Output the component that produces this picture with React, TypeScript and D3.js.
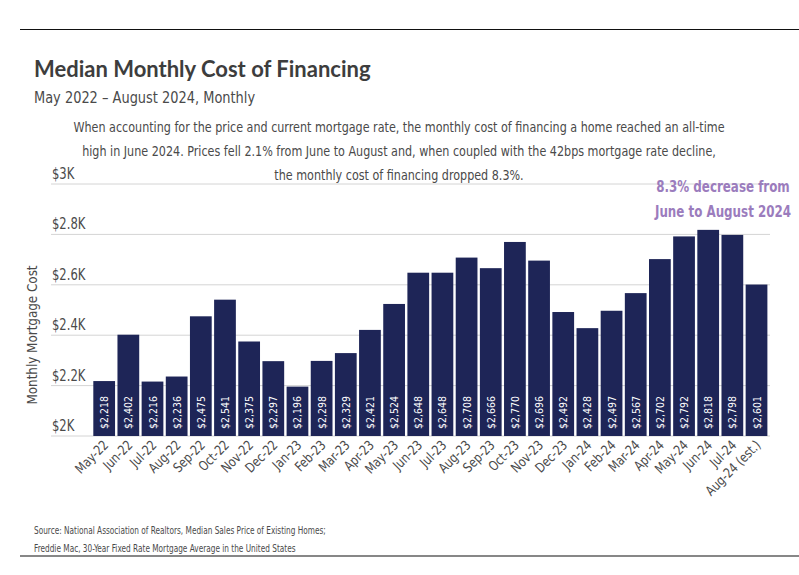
import React from 'react';
import * as d3 from 'd3';

const months = [
  'May-22', 'Jun-22', 'Jul-22', 'Aug-22', 'Sep-22', 'Oct-22', 'Nov-22', 'Dec-22',
  'Jan-23', 'Feb-23', 'Mar-23', 'Apr-23', 'May-23', 'Jun-23', 'Jul-23', 'Aug-23',
  'Sep-23', 'Oct-23', 'Nov-23', 'Dec-23', 'Jan-24', 'Feb-24', 'Mar-24', 'Apr-24',
  'May-24', 'Jun-24', 'Jul-24', 'Aug-24 (est.)',
];

const costs = [
  2218, 2402, 2216, 2236, 2475, 2541, 2375, 2297,
  2196, 2298, 2329, 2421, 2524, 2648, 2648, 2708,
  2666, 2770, 2696, 2492, 2428, 2497, 2567, 2702,
  2792, 2818, 2798, 2601,
];

const yTicks = [2000, 2200, 2400, 2600, 2800, 3000];

const noteLines = [
  'When accounting for the price and current mortgage rate, the monthly cost of financing a home reached an all-time',
  'high in June 2024. Prices fell 2.1% from June to August and, when coupled with the 42bps mortgage rate decline,',
  'the monthly cost of financing dropped 8.3%.',
];

const calloutLines = ['8.3% decrease from', 'June to August 2024'];

const sourceLines = [
  'Source: National Association of Realtors, Median Sales Price of Existing Homes;',
  'Freddie Mac, 30-Year Fixed Rate Mortgage Average in the United States',
];

const narrow = '"DejaVu Sans Condensed", "DejaVu Sans", sans-serif';
const textColor = '#4a4a4a';
const barColor = '#1e2557';
const purple = '#9b7cbd';

// condensed text: squeeze glyphs horizontally to mimic a narrow face
const NText: React.FC<{
  x: number;
  y: number;
  sx: number;
  rotate?: number;
  size: number;
  anchor?: 'start' | 'middle' | 'end';
  weight?: number;
  fill?: string;
  children: React.ReactNode;
}> = ({ x, y, sx, rotate = 0, size, anchor = 'start', weight = 400, fill = textColor, children }) => (
  <g transform={`translate(${x},${y}) rotate(${rotate}) scale(${sx},1)`}>
    <text textAnchor={anchor} fontFamily={narrow} fontSize={size} fontWeight={weight} fill={fill}>
      {children}
    </text>
  </g>
);

const App: React.FC = () => {
  const width = 799;
  const height = 575;

  const x = d3
    .scaleBand<string>()
    .domain(months)
    .range([92.1, 768.6])
    .paddingInner(0.1)
    .paddingOuter(0.05);

  const y = d3.scaleLinear().domain([2000, 3000]).range([436, 184]);

  const fmt = d3.format(',');

  return (
    <svg
      width={width}
      height={height}
      style={{ position: 'absolute', left: 0, top: 0, background: '#fff' }}
    >
      <line x1={20} x2={width} y1={29.5} y2={29.5} stroke="#111" strokeWidth={1} />
      <line x1={20} x2={width} y1={556} y2={556} stroke="#111" strokeWidth={1.2} />

      <text x={34} y={77} fontFamily="Lato, sans-serif" fontWeight={700} fontSize={22} fill="#3d3d3d">
        Median Monthly Cost of Financing
      </text>
      <NText x={34} y={103} sx={0.93} size={15.5}>
        May 2022 – August 2024, Monthly
      </NText>

      {noteLines.map((line, i) => (
        <NText key={i} x={399} y={132 + i * 24} sx={0.92} size={13.5} anchor="middle">
          {line}
        </NText>
      ))}

      {/* gridlines and y labels */}
      {yTicks.map((t) => (
        <g key={t}>
          <line x1={51} x2={770} y1={y(t)} y2={y(t)} stroke="#d4d4d4" strokeWidth={1} />
          <NText x={52} y={y(t) - 5} sx={0.86} size={15}>
            {t === 3000 ? '$3K' : t === 2000 ? '$2K' : `$${(t / 1000).toFixed(1)}K`}
          </NText>
        </g>
      ))}

      <NText x={37} y={335} rotate={-90} sx={0.95} size={14} anchor="middle">
        Monthly Mortgage Cost
      </NText>

      {/* bars */}
      {months.map((m, i) => {
        const bx = x(m)!;
        const cx = bx + x.bandwidth() / 2;
        return (
          <g key={m}>
            <rect x={bx} y={y(costs[i])} width={x.bandwidth()} height={y(2000) - y(costs[i])} fill={barColor} />
            <NText x={cx + 4} y={429} rotate={-90} sx={0.95} size={11} fill="#fff">
              {`$${fmt(costs[i])}`}
            </NText>
            <NText x={cx + 5} y={446} rotate={-45} sx={0.9} size={13.5} anchor="end">
              {m}
            </NText>
          </g>
        );
      })}

      {calloutLines.map((line, i) => (
        <NText key={i} x={723} y={192 + i * 25} sx={0.8} size={16.5} anchor="middle" weight={700} fill={purple}>
          {line}
        </NText>
      ))}

      {sourceLines.map((line, i) => (
        <NText key={i} x={34} y={534 + i * 18} sx={0.82} size={10} fill={textColor}>
          {line}
        </NText>
      ))}
    </svg>
  );
};

export default App;
